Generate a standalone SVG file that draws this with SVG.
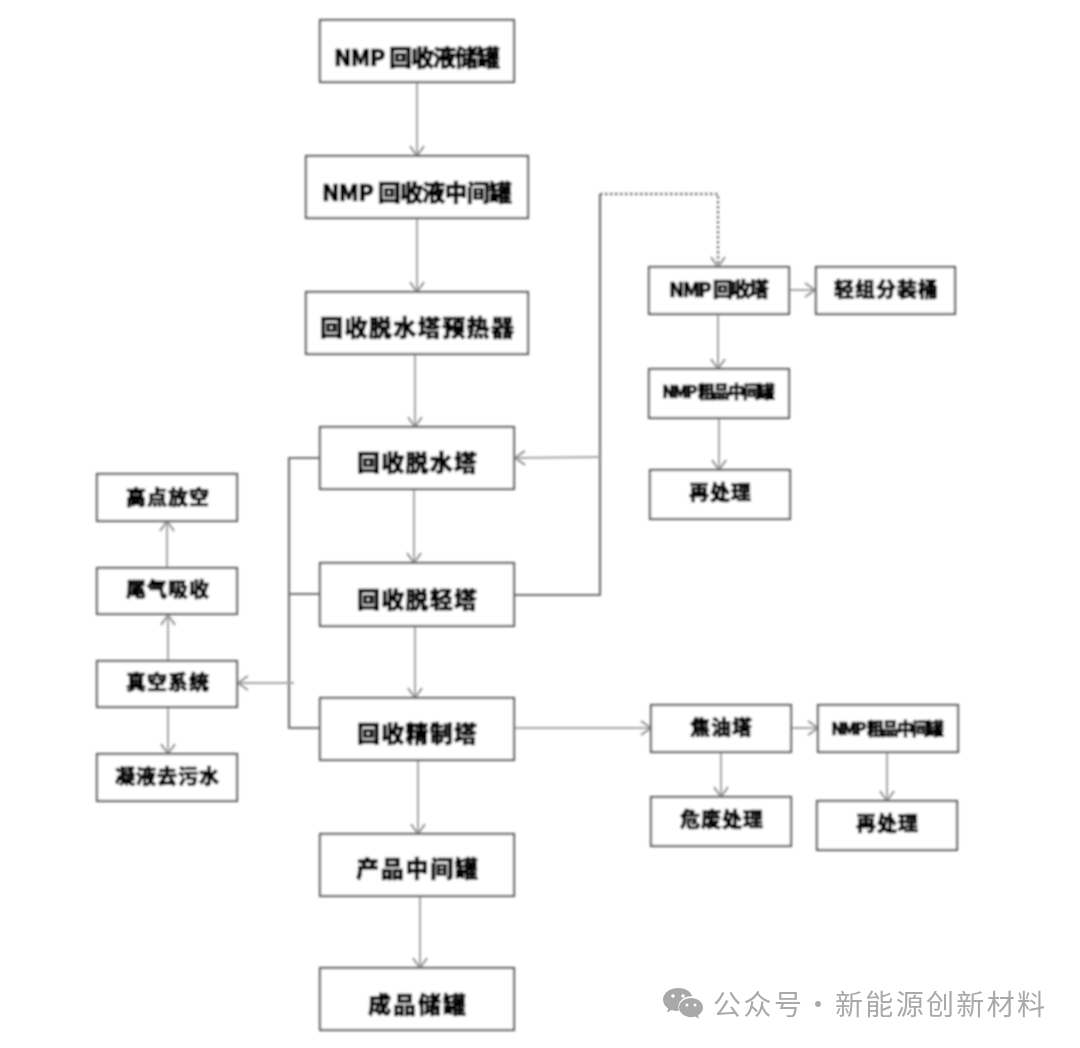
<svg xmlns="http://www.w3.org/2000/svg" width="1080" height="1048" viewBox="0 0 1080 1048">
<style>
.b{fill:#fff;stroke:#5c5c5c;stroke-width:2.2}
.c{fill:none;stroke:#a4a4a4;stroke-width:2}
.d{fill:none;stroke:#6e6e6e;stroke-width:2.2}
.e{fill:none;stroke:#707070;stroke-width:2.4;stroke-dasharray:2.500 2.500}
.t{font-family:"Noto Sans CJK SC","Liberation Sans",sans-serif;font-weight:900;fill:#000;stroke:#000;stroke-width:.7}
.l{font-size:23px}.m{font-size:20px}.s{font-size:17px}
.w{font-family:"Noto Sans CJK SC","Liberation Sans",sans-serif;font-size:28px;fill:#a9a9a9}
</style>
<defs>
<filter id="soft" x="0" y="0" width="1080" height="1048" filterUnits="userSpaceOnUse"><feGaussianBlur stdDeviation="1"/></filter>
<filter id="soft2" x="600" y="970" width="480" height="70" filterUnits="userSpaceOnUse"><feGaussianBlur stdDeviation="0.4"/></filter>
<marker id="a" markerUnits="userSpaceOnUse" markerWidth="20" markerHeight="20" refX="14" refY="10" orient="auto"><path d="M4 3L14 10L4 17" fill="none" stroke="#919191" stroke-width="2"/></marker>
</defs>
<rect width="1080" height="1048" fill="#fff"/>
<g filter="url(#soft)">
<g id="connectors">
<path class="c" marker-end="url(#a)" d="M417 83V156"/>
<path class="c" marker-end="url(#a)" d="M417 218V292"/>
<path class="c" marker-end="url(#a)" d="M415 354V427"/>
<path class="c" marker-end="url(#a)" d="M414 490V563"/>
<path class="c" marker-end="url(#a)" d="M415 626V698"/>
<path class="c" marker-end="url(#a)" d="M418 761V834"/>
<path class="c" marker-end="url(#a)" d="M420 897V968"/>
<path class="d" d="M320 458H289V728H320M289 594H320"/>
<path class="c" marker-end="url(#a)" d="M294 683H238"/>
<path class="c" marker-end="url(#a)" d="M167 568V521"/>
<path class="c" marker-end="url(#a)" d="M168 661V615"/>
<path class="c" marker-end="url(#a)" d="M168 708V754"/>
<path class="d" d="M515 595H600V194"/>
<path class="c" marker-end="url(#a)" d="M600 457L515 458"/>
<path class="e" marker-end="url(#a)" d="M600 194H718V267"/>
<path class="c" marker-end="url(#a)" d="M789 290H815"/>
<path class="c" marker-end="url(#a)" d="M718 314V369"/>
<path class="c" marker-end="url(#a)" d="M719 418V470"/>
<path class="c" marker-end="url(#a)" d="M514 728H651"/>
<path class="c" marker-end="url(#a)" d="M791 728H818"/>
<path class="c" marker-end="url(#a)" d="M721 752V797"/>
<path class="c" marker-end="url(#a)" d="M887 752V801"/>
</g>
<g id="n1"><rect class="b" x="320" y="20" width="194" height="62"/><text class="t l" x="334" y="66" textLength="166">NMP 回收液储罐</text></g>
<g id="n2"><rect class="b" x="306" y="156" width="222" height="62"/><text class="t l" x="322" y="201" textLength="190">NMP 回收液中间罐</text></g>
<g id="n3"><rect class="b" x="306" y="292" width="222" height="62"/><text class="t l" x="320" y="336" textLength="194">回收脱水塔预热器</text></g>
<g id="n4"><rect class="b" x="320" y="427" width="194" height="62"/><text class="t l" x="357" y="471" textLength="120">回收脱水塔</text></g>
<g id="n5"><rect class="b" x="320" y="563" width="194" height="63"/><text class="t l" x="357" y="608" textLength="120">回收脱轻塔</text></g>
<g id="n6"><rect class="b" x="320" y="698" width="194" height="62"/><text class="t l" x="357" y="742" textLength="120">回收精制塔</text></g>
<g id="n7"><rect class="b" x="320" y="834" width="194" height="62"/><text class="t l" x="356" y="877" textLength="122">产品中间罐</text></g>
<g id="n8"><rect class="b" x="320" y="968" width="194" height="62"/><text class="t l" x="368" y="1013" textLength="98">成品储罐</text></g>
<g id="n9"><rect class="b" x="649" y="267" width="140" height="47"/><text class="t m" x="669" y="297" textLength="100">NMP 回收塔</text></g>
<g id="n10"><rect class="b" x="816" y="267" width="139" height="47"/><text class="t m" x="834" y="297" textLength="104">轻组分装桶</text></g>
<g id="n11"><rect class="b" x="649" y="369" width="140" height="49"/><text class="t s" x="662" y="398" textLength="113">NMP 粗品中间罐</text></g>
<g id="n12"><rect class="b" x="650" y="470" width="140" height="49"/><text class="t m" x="689" y="500" textLength="62">再处理</text></g>
<g id="n13"><rect class="b" x="97" y="474" width="140" height="47"/><text class="t m" x="126" y="505" textLength="83">高点放空</text></g>
<g id="n14"><rect class="b" x="97" y="568" width="140" height="46"/><text class="t m" x="126" y="597" textLength="83">尾气吸收</text></g>
<g id="n15"><rect class="b" x="97" y="661" width="140" height="46"/><text class="t m" x="126" y="690" textLength="83">真空系统</text></g>
<g id="n16"><rect class="b" x="97" y="754" width="140" height="47"/><text class="t m" x="115" y="784" textLength="104">凝液去污水</text></g>
<g id="n17"><rect class="b" x="651" y="705" width="140" height="47"/><text class="t m" x="690" y="735" textLength="62">焦油塔</text></g>
<g id="n18"><rect class="b" x="818" y="705" width="140" height="47"/><text class="t s" x="831" y="735" textLength="113">NMP 粗品中间罐</text></g>
<g id="n19"><rect class="b" x="651" y="797" width="140" height="49"/><text class="t m" x="680" y="827" textLength="83">危废处理</text></g>
<g id="n20"><rect class="b" x="817" y="801" width="140" height="49"/><text class="t m" x="856" y="831" textLength="62">再处理</text></g>
</g>
<g id="watermark" filter="url(#soft2)">
<path fill="#a9a9a9" d="M678 988c-8.500 0-15 5.200-15 11.700c0 3.600 2 6.600 5.200 8.800l-1.200 3.900l4.500-2.400c2 .6 4 .9 6 .9c.5 0 1 0 1.500-.1c-.4-1.200-.6-2.400-.6-3.700c0-6 5.600-10.800 12.800-10.800c.4 0 .7 0 1.100 0C691 991.500 685 988 678 988z"/>
<path fill="#a9a9a9" d="M691 998c-6.700 0-12 4.300-12 9.600s5.300 9.600 12 9.600c1.500 0 2.900-.2 4.300-.6l3.700 2.100l-1-3.300c3-1.800 5-4.600 5-7.800c0-5.300-5.300-9.600-12-9.600z"/>
<g fill="#fff"><circle cx="673" cy="996" r="1.800"/><circle cx="683" cy="996" r="1.800"/><circle cx="687" cy="1005" r="1.500"/><circle cx="695" cy="1005" r="1.500"/></g>
<text class="w" x="713" y="1015" textLength="89">公众号</text>
<text class="w" x="804" y="1015">·</text>
<text class="w" x="835" y="1015" textLength="210">新能源创新材料</text>
</g>
</svg>
